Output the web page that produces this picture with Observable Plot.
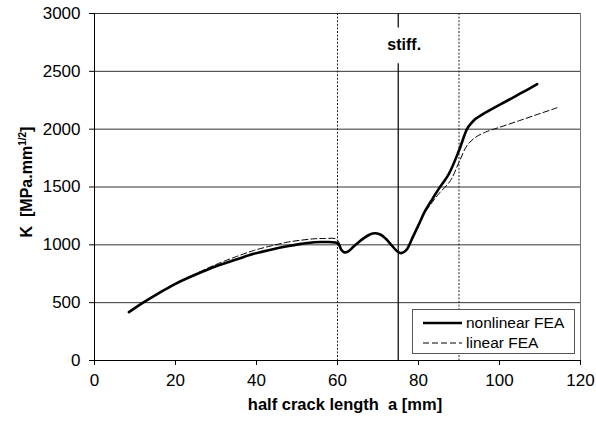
<!DOCTYPE html>
<html>
<head>
<meta charset="utf-8">
<script src="https://cdn.jsdelivr.net/npm/d3@7"></script>
<script src="https://cdn.jsdelivr.net/npm/@observablehq/plot@0.6"></script>
<style>
  body { margin: 0; background: #fff; }
  #chart svg { display: block; }
</style>
</head>
<body>
<div id="chart"></div>
<script>
// Stress intensity factor K versus half crack length a (stiffened panel)
const nonlinearA = [8.5, 12, 16, 20, 25, 30, 35, 39.3, 43.5, 47.6, 51, 54.2, 57, 59.5,
  60.3, 60.9, 61.6, 62.5, 64, 66, 68, 69.4, 70.8, 72, 73.5, 74.8, 75.7, 76.5, 77.2, 78.5, 80,
  81.7, 83.5, 85, 87.5, 90, 92, 93, 94.1, 95.5, 97.4, 100, 103, 106, 109.3];
const nonlinearK = [418, 500, 585, 663, 743, 815, 873, 922, 958, 988, 1008, 1023, 1024, 1020,
  1005, 960, 936, 940, 985, 1045, 1090, 1100, 1085, 1050, 990, 942, 928, 940, 965, 1060, 1170,
  1297, 1400, 1484, 1614, 1815, 2003, 2050, 2089, 2122, 2160, 2210, 2267, 2324, 2390];

const linearA = [8.5, 12, 16, 20, 25, 30, 35, 39.3, 43.5, 47.6, 51, 54.2, 57, 59.5,
  60.3, 60.9, 61.6, 62.5, 64, 66, 68, 69.4, 70.8, 72, 73.5, 74.8, 75.7, 76.5, 77.2, 78.5,
  80.9, 83, 85, 87.9, 90, 92, 94.1, 96.5, 100, 105, 110, 114.2];
const linearK = [418, 500, 586, 666, 750, 830, 898, 951, 990, 1023, 1040, 1052, 1055, 1053,
  1025, 965, 936, 940, 985, 1045, 1090, 1100, 1085, 1050, 990, 942, 928, 940, 962, 1050,
  1239, 1350, 1441, 1556, 1714, 1859, 1930, 1974, 2016, 2075, 2135, 2185];

const xTicks = [0, 20, 40, 60, 80, 100, 120];
const yTicks = [0, 500, 1000, 1500, 2000, 2500, 3000];
const sectionLines = [60, 90];      // dashed section boundaries
const stiffenerA = 75;              // stiffener position
const stiffenerLabel = "stiff.";
const seriesNames = ["nonlinear FEA", "linear FEA"];
const xTitle = "half crack length  a [mm]";
const yTitleMain = "K  [MPa.mm";
const yTitleSup = "1/2";

const nonlinear = nonlinearA.map((a, i) => ({a, K: nonlinearK[i]}));
const linear = linearA.map((a, i) => ({a, K: linearK[i]}));

const font = "Arial, 'Liberation Sans', Helvetica, sans-serif";
const gridColor = "#333";

const chart = Plot.plot({
  width: 596,
  height: 421,
  marginLeft: 94,
  marginRight: 16,
  marginTop: 13,
  marginBottom: 61,
  style: {fontFamily: font, fontSize: "17px", color: "#000", background: "#fff", overflow: "visible"},
  x: {domain: [0, 120]},
  y: {domain: [0, 3000]},
  marks: [
    // horizontal gridlines and frame
    Plot.ruleY(yTicks.filter(d => d > 0), {stroke: gridColor, strokeWidth: 1}),
    Plot.ruleX([120], {stroke: "#777", strokeWidth: 1}),
    // section boundaries
    Plot.ruleX(sectionLines, {stroke: "#222", strokeWidth: 1, strokeDasharray: "2,1.6"}),
    // stiffener line, broken behind its label
    Plot.ruleX([stiffenerA], {y1: 0, y2: 2565, stroke: "#111", strokeWidth: 1.3}),
    Plot.ruleX([stiffenerA], {y1: 2875, y2: 3000, stroke: "#111", strokeWidth: 1.3}),
    Plot.text([stiffenerLabel], {x: stiffenerA, y: 2725, dx: 6, text: d => d,
      fontWeight: "bold", fontSize: 16, fill: "#000"}),
    // series
    Plot.line(linear, {x: "a", y: "K", curve: "catmull-rom", stroke: "#000",
      strokeWidth: 1, strokeDasharray: "6,3"}),
    Plot.line(nonlinear, {x: "a", y: "K", curve: "catmull-rom", stroke: "#000",
      strokeWidth: 2.6}),
    // axes
    Plot.ruleX([0], {stroke: "#000"}),
    Plot.ruleY([0], {stroke: "#000"}),
    Plot.axisX({ticks: xTicks, tickSize: 5, tickPadding: 8, fontSize: 17,
      tickFormat: d => String(d), label: null}),
    Plot.axisY({ticks: yTicks, tickSize: 5, tickPadding: 9, fontSize: 17,
      tickFormat: d => String(d), label: null})
  ]
});

document.getElementById("chart").append(chart);

const svg = d3.select(chart);

// axis titles
svg.append("text")
  .attr("x", 345).attr("y", 410)
  .attr("text-anchor", "middle")
  .style("font-family", font).style("font-size", "16.5px").style("font-weight", "bold")
  .style("white-space", "pre")
  .text(xTitle);

const yt = svg.append("text")
  .attr("transform", "translate(32,182) rotate(-90)")
  .attr("text-anchor", "middle")
  .style("font-family", font).style("font-size", "16px").style("font-weight", "bold")
  .style("white-space", "pre");
yt.append("tspan").text(yTitleMain);
yt.append("tspan").attr("dy", -6).style("font-size", "10px").text(yTitleSup);
yt.append("tspan").attr("dy", 6).text("]");

// legend
const lg = svg.append("g")
  .style("font-family", font).style("font-size", "15.5px")
  .attr("text-anchor", "start");
lg.append("rect").attr("x", 412.5).attr("y", 309.5).attr("width", 162).attr("height", 44)
  .attr("fill", "#fff").attr("stroke", "#555").attr("stroke-width", 1);
const rows = [
  {name: seriesNames[0], width: 2.6, dash: null, y: 323},
  {name: seriesNames[1], width: 1, dash: "6,3", y: 343}
];
rows.forEach(r => {
  lg.append("line").attr("x1", 423).attr("x2", 462).attr("y1", r.y).attr("y2", r.y)
    .attr("stroke", "#000").attr("stroke-width", r.width)
    .attr("stroke-dasharray", r.dash);
  lg.append("text").attr("x", 466).attr("y", r.y).attr("dy", "0.35em")
    .attr("text-anchor", "start").text(r.name);
});
</script>
</body>
</html>
